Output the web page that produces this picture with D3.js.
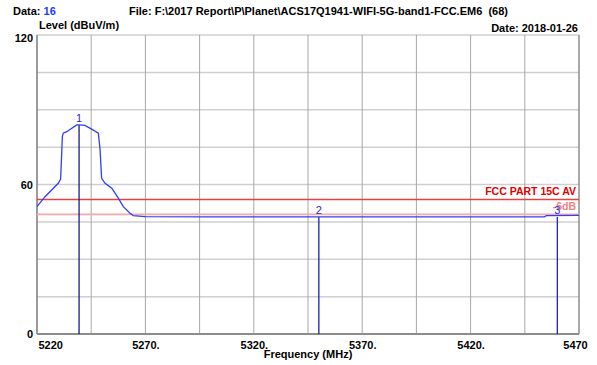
<!DOCTYPE html>
<html><head><meta charset="utf-8">
<script src="https://cdn.jsdelivr.net/npm/d3@7"></script>
<style>
html,body{margin:0;padding:0;background:#fff;}
svg{display:block;font-family:"Liberation Sans",Arial,sans-serif;}
</style></head>
<body><svg id="c" width="597" height="365"></svg>
<script>
// ---- data ----
const traceFreq = [5220, 5223.7, 5229.8, 5230.9, 5231.7, 5232.1, 5233.7, 5238.3, 5239.4, 5242.1, 5245.2, 5248.3, 5249.1, 5249.8, 5251.4, 5254.5, 5257.5, 5259.8, 5262.9, 5264.4, 5269.8, 5300, 5350, 5400, 5454, 5455, 5470];
const traceLevel = [51.1, 55.1, 60.5, 62.2, 79.2, 80.6, 81.2, 83.9, 83.9, 83.7, 82.2, 80.6, 73.9, 62.5, 60.5, 58.5, 54.5, 51.1, 48.5, 47.5, 47.1, 47.0, 47.0, 47.0, 47.0, 47.5, 47.6];
const markerIds = ["1", "2", "3"];
const markerFreq = [5239.4, 5350, 5460];
const markerLevel = [83.9, 47.0, 47.0];
const limitNames = ["FCC PART 15C AV", "-6dB"];
const limitLevels = [54, 48];
const xTicks = [5220, 5270, 5320, 5370, 5420, 5470];
const xGrid = [5245, 5270, 5295, 5320, 5345, 5370, 5395, 5420, 5445];
const yTicks = [0, 60, 120];
const yGrid = [15, 30, 45, 60, 75, 90, 105, 120];

// ---- layout ----
const L = 37, R = 579, T = 35, B = 334;
const svg = d3.select("#c");
const x = d3.scaleLinear().domain([5220, 5470]).range([L, R]);
const y = d3.scaleLinear().domain([0, 120]).range([B, T]);

// grid
svg.append("g").selectAll("line").data(yGrid).join("line")
  .attr("x1", L).attr("x2", R).attr("y1", d => y(d)).attr("y2", d => y(d))
  .attr("stroke", "#cfcfcf").attr("stroke-width", 1.5);
svg.append("g").selectAll("line").data(xGrid).join("line")
  .attr("x1", d => x(d)).attr("x2", d => x(d)).attr("y1", T).attr("y2", B)
  .attr("stroke", "#a8a8a8").attr("stroke-width", 1);

// frame
svg.append("line").attr("x1", R).attr("x2", R).attr("y1", T).attr("y2", B).attr("stroke", "#8c8c8c").attr("stroke-width", 1.5);
svg.append("line").attr("x1", L).attr("x2", L).attr("y1", T).attr("y2", B).attr("stroke", "#7a7a7a").attr("stroke-width", 1.5);
svg.append("line").attr("x1", L).attr("x2", R).attr("y1", B).attr("y2", B).attr("stroke", "#8c8c8c").attr("stroke-width", 2);

// limit lines
const limColors = ["#e84040", "#f5a8a8"];
const limText = ["#e00000", "#f08080"];
svg.append("g").selectAll("line").data(limitLevels).join("line")
  .attr("x1", L).attr("x2", R).attr("y1", d => y(d)).attr("y2", d => y(d))
  .attr("stroke", (d, i) => limColors[i]).attr("stroke-width", 1.6);
svg.append("g").selectAll("text").data(limitNames).join("text")
  .attr("x", R - 3).attr("y", (d, i) => y(limitLevels[i]) - 4)
  .attr("text-anchor", "end").attr("font-size", 10.5).attr("font-weight", "bold")
  .attr("fill", (d, i) => limText[i]).text(d => d);

// markers
const mk = svg.append("g");
markerIds.forEach((id, i) => {
  mk.append("line").attr("x1", x(markerFreq[i])).attr("x2", x(markerFreq[i]))
    .attr("y1", B).attr("y2", y(markerLevel[i]))
    .attr("stroke", i === 0 ? "#1a1a90" : "#2020b0").attr("stroke-width", 1.3);
  mk.append("text").attr("x", x(markerFreq[i])).attr("y", y(markerLevel[i]) - 3)
    .attr("text-anchor", "middle").attr("font-size", 11).attr("fill", "#2a2ad8").text(id);
});

// trace
svg.append("path").datum(traceFreq.map((f, i) => [f, traceLevel[i]]))
  .attr("d", d3.line().x(d => x(d[0])).y(d => y(d[1])))
  .attr("fill", "none").attr("stroke", "#3040f0").attr("stroke-width", 1.3);

// axes
const xa = svg.append("g").attr("transform", `translate(0,${B})`)
  .call(d3.axisBottom(x).tickValues(xTicks).tickSize(0).tickPadding(7)
    .tickFormat((d, i) => (i === 0 || i === xTicks.length - 1) ? String(d) : d + "."));
xa.select(".domain").remove();
xa.selectAll("text").attr("font-size", 11).attr("font-weight", "bold").attr("fill", "#000")
  .attr("font-family", "Liberation Sans, Arial, sans-serif");
xa.selectAll("text").filter(d => d === 5220).attr("text-anchor", "start").attr("dx", 1);
xa.selectAll("text").filter(d => d === 5470).attr("dx", -4);

const ya = svg.append("g").attr("transform", `translate(${L},0)`)
  .call(d3.axisLeft(y).tickValues(yTicks).tickSize(0).tickPadding(4));
ya.select(".domain").remove();
ya.selectAll("text").attr("font-size", 11).attr("font-weight", "bold").attr("fill", "#000")
  .attr("font-family", "Liberation Sans, Arial, sans-serif");
ya.selectAll("text").filter(d => d === 120).attr("dy", "0.55em");

// header texts
const hdr = svg.append("g").attr("font-size", 11).attr("font-weight", "bold").attr("fill", "#000");
const t1 = hdr.append("text").attr("x", 13).attr("y", 15);
t1.append("tspan").text("Data: ");
t1.append("tspan").attr("fill", "#1a3cff").text("16");
hdr.append("text").attr("x", 129).attr("y", 15).attr("xml:space", "preserve")
  .text("File: F:\\2017 Report\\P\\Planet\\ACS17Q1941-WIFI-5G-band1-FCC.EM6  (68)");
hdr.append("text").attr("x", 39).attr("y", 29).text("Level (dBuV/m)");
hdr.append("text").attr("x", 578).attr("y", 32).attr("text-anchor", "end").text("Date: 2018-01-26");
hdr.append("text").attr("x", (L + R) / 2).attr("y", 358).attr("text-anchor", "middle").text("Frequency (MHz)");
</script>
</body></html>
